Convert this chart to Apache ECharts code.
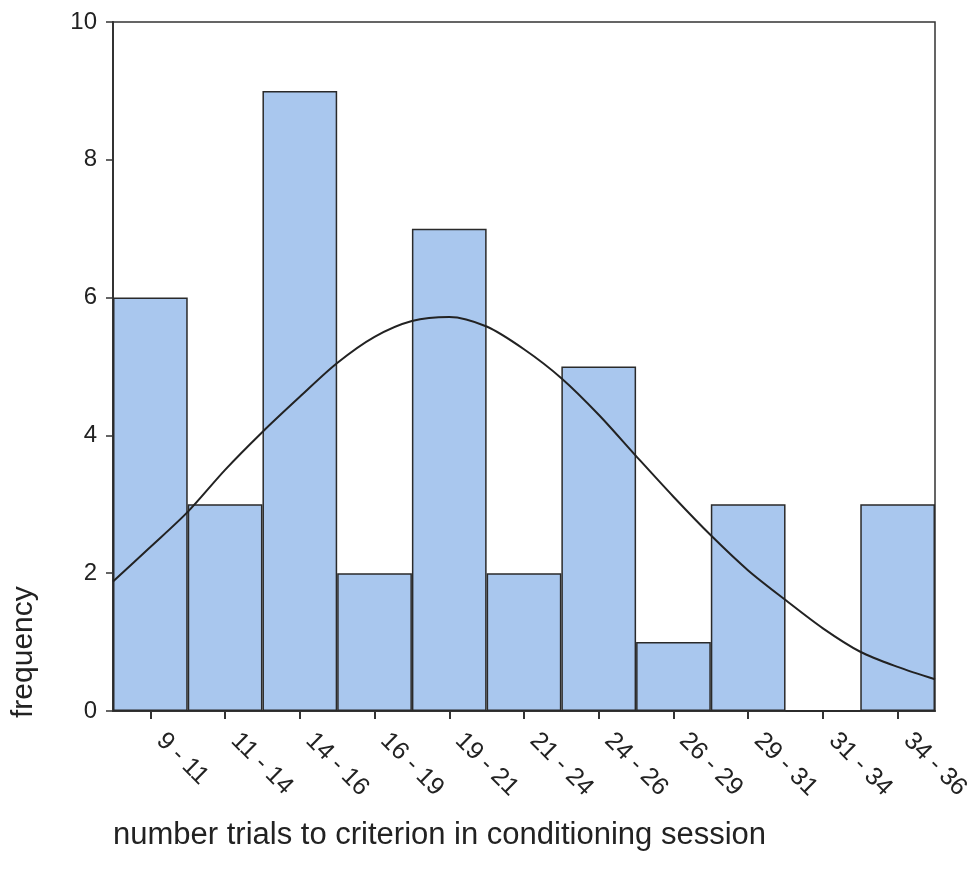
<!DOCTYPE html>
<html><head><meta charset="utf-8">
<script src="https://cdn.jsdelivr.net/npm/echarts@6/dist/echarts.min.js"></script>
<style>html,body{margin:0;padding:0;background:#fff}#c{width:976px;height:875px}</style>
</head><body><div id="c"></div>
<script>
const categories = ['9 - 11','11 - 14','14 - 16','16 - 19','19 - 21','21 - 24','24 - 26','26 - 29','29 - 31','31 - 34','34 - 36'];
const frequencies = [6,3,9,2,7,2,5,1,3,0,3];
const curvePos = [0,0.5,1,1.5,2,2.5,3,3.5,4,4.5,5,5.5,6,6.5,7,7.5,8,8.5,9,9.5,10,10.5,11];
const curveVal = [1.88,2.38,2.89,3.5,4.05,4.56,5.05,5.43,5.66,5.72,5.58,5.25,4.83,4.3,3.7,3.11,2.55,2.04,1.61,1.2,0.86,0.64,0.46];
const yTicks = [0,2,4,6,8,10];

const chart = echarts.init(document.getElementById('c'));
const font = 'Liberation Sans, Arial, sans-serif';
chart.setOption({
  animation:false,
  grid:{left:113,right:41,top:22,bottom:164,show:true,borderColor:'#333',borderWidth:1.5,backgroundColor:'transparent'},
  xAxis:[{
    type:'category',data:categories,boundaryGap:true,
    axisLine:{lineStyle:{color:'#333',width:2}},
    axisTick:{show:true,alignWithLabel:true,interval:0,length:8,lineStyle:{color:'#333',width:2}},
    axisLabel:{interval:0,rotate:-45,margin:16,padding:[0,0,0,14],fontFamily:font,fontSize:25,color:'#222'}
  },{
    type:'value',min:0,max:11,show:false
  }],
  yAxis:{
    type:'value',min:yTicks[0],max:yTicks[yTicks.length-1],interval:2,
    axisLine:{show:true,lineStyle:{color:'#333',width:2}},
    axisTick:{show:true,length:7,lineStyle:{color:'#333',width:1.5}},
    splitLine:{show:false},
    axisLabel:{fontFamily:font,fontSize:24,color:'#222',margin:16}
  },
  graphic:[
    {type:'text',left:113,top:820,style:{text:'number trials to criterion in conditioning session',font:'31px '+font,fill:'#222'}},
    {type:'text',x:9,y:718,rotation:Math.PI/2,style:{text:'frequency',font:'30px '+font,fill:'#222'}}
  ],
  series:[{
    type:'bar',data:frequencies,barCategoryGap:'0%',
    itemStyle:{color:'#a9c7ee',borderColor:'#2a2a2a',borderWidth:1.5}
  },{
    type:'line',xAxisIndex:1,smooth:0.3,symbol:'none',
    data:curvePos.map((p,i)=>[p,curveVal[i]]),
    lineStyle:{color:'#222',width:2}
  }]
});
</script></body></html>
